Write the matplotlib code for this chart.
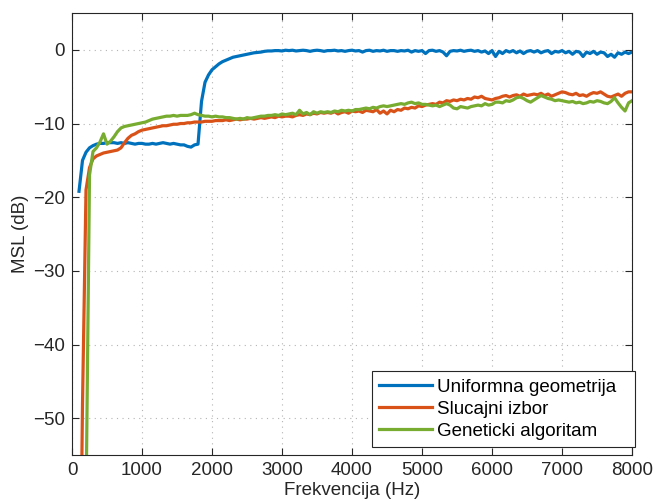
import numpy as np
import matplotlib
matplotlib.use("Agg")
import matplotlib.pyplot as plt

plt.rcParams["font.family"] = ["Liberation Sans", "DejaVu Sans"]

# frequency grid, 50 Hz steps
freq = np.arange(100, 8001, 50)

# MSL in dB for each array layout
uniform = [
    -19.2, -15.0, -13.9, -13.3, -13.0, -12.8, -12.7, -12.7, -12.6, -12.6,
    -12.6, -12.7, -12.6, -12.7, -12.6, -12.7, -12.8, -12.7, -12.7, -12.8,
    -12.8, -12.7, -12.8, -12.7, -12.6, -12.7, -12.8, -12.7, -12.8, -12.9,
    -12.9, -13.1, -13.2, -12.9, -12.8, -7.0, -4.4, -3.4, -2.7, -2.3,
    -1.9, -1.6, -1.4, -1.2, -1.0, -0.9, -0.8, -0.7, -0.6, -0.5,
    -0.4, -0.35, -0.3, -0.2, -0.15, -0.15, -0.1, -0.1, -0.15, -0.05,
    -0.1, -0.05, -0.15, -0.1, -0.05, -0.1, -0.2, -0.1, -0.05, -0.1,
    -0.2, -0.1, -0.1, -0.05, -0.15, -0.1, -0.2, -0.1, -0.05, -0.15,
    -0.1, -0.3, -0.1, -0.05, -0.2, -0.1, -0.15, -0.05, -0.2, -0.1,
    -0.1, -0.2, -0.1, -0.15, -0.05, -0.3, -0.1, -0.2, -0.1, -0.5,
    -0.1, -0.05, -0.2, -0.1, -0.3, -0.8, -0.2, -0.1, -0.15, -0.05,
    -0.2, -0.1, -0.05, -0.2, -0.1, -0.3, -0.15, -0.5, -0.1, -0.9,
    -0.2, -0.5, -0.1, -0.3, -0.1, -0.4, -0.15, -0.5, -0.2, -0.1,
    -0.3, -0.1, -0.4, -0.2, -0.1, -0.5, -0.2, -0.3, -0.1, -0.4,
    -0.2, -0.6, -0.2, -0.3, -0.9, -0.3, -0.5, -0.2, -0.6, -0.3,
    -0.4, -0.9, -0.6, -1.0, -0.4, -0.6, -0.3, -0.5, -0.3,
]

random_pick = [
    -90.0, -48.0, -19.0, -16.0, -14.8, -14.4, -14.2, -14.0, -13.9, -13.8,
    -13.7, -13.6, -13.3, -12.6, -12.0, -11.6, -11.4, -11.1, -10.9, -10.8,
    -10.7, -10.6, -10.5, -10.4, -10.3, -10.3, -10.2, -10.1, -10.1, -10.0,
    -10.0, -9.9, -9.9, -9.8, -9.8, -9.8, -9.7, -9.7, -9.7, -9.6,
    -9.6, -9.6, -9.5, -9.6, -9.5, -9.4, -9.5, -9.4, -9.4, -9.3,
    -9.4, -9.3, -9.2, -9.3, -9.2, -9.1, -9.2, -9.0, -9.1, -9.0,
    -9.0, -9.1, -8.9, -8.8, -8.9, -8.7, -8.8, -8.6, -8.7, -8.5,
    -8.6, -8.5, -8.6, -8.4, -8.7, -8.5, -8.4, -8.6, -8.3, -8.4,
    -8.3, -8.5, -8.2, -8.3, -8.4, -8.1, -8.6, -8.3, -8.7, -8.2,
    -8.4, -8.1, -8.2, -7.9, -8.0, -7.8, -7.9, -7.6, -7.7, -7.5,
    -7.4, -7.3, -7.4, -7.1, -7.2, -6.9, -7.0, -6.8, -6.9, -6.7,
    -6.8, -6.6, -6.7, -6.4, -6.5, -6.3, -6.6, -6.7, -6.8, -6.6,
    -6.5, -6.3, -6.2, -6.4, -6.2, -6.1, -6.3, -6.0, -6.2, -6.1,
    -6.0, -6.1, -5.9, -6.2, -6.0, -6.3, -6.1, -5.9, -5.7, -5.8,
    -6.0, -6.1, -5.9, -6.2, -6.1, -6.3, -6.0, -5.8, -5.9, -5.7,
    -6.0, -6.3, -6.4, -6.2, -6.0, -6.3, -5.9, -5.7, -5.7,
]

genetic = [
    -80.0, -75.0, -62.0, -17.0, -13.8, -13.3, -12.5, -11.4, -12.8, -12.4,
    -11.8, -11.1, -10.6, -10.4, -10.3, -10.2, -10.1, -10.0, -9.9, -9.8,
    -9.6, -9.4, -9.3, -9.2, -9.1, -9.0, -9.0, -8.9, -9.0, -8.9,
    -8.9, -8.9, -8.8, -8.6, -8.8, -8.9, -9.0, -9.0, -9.1, -9.0,
    -9.1, -9.1, -9.2, -9.2, -9.3, -9.4, -9.3, -9.4, -9.2, -9.3,
    -9.2, -9.1, -9.0, -9.0, -8.9, -8.9, -8.8, -8.9, -8.7, -8.8,
    -8.7, -8.6, -8.8, -8.2, -8.7, -8.5, -8.8, -8.4, -8.6, -8.4,
    -8.5, -8.4, -8.5, -8.3, -8.4, -8.2, -8.3, -8.2, -8.3, -8.1,
    -8.1, -8.0, -7.9, -8.0, -7.8, -7.9, -7.7, -7.6, -7.7, -7.6,
    -7.5, -7.4, -7.3, -7.4, -7.2, -7.1, -7.3, -7.2, -7.4, -7.4,
    -7.5, -7.6, -7.5, -7.7, -7.5, -7.3, -7.5, -7.9, -8.0, -7.7,
    -7.8, -7.9, -7.7, -7.6, -7.5, -7.6, -7.3, -7.5, -7.4, -7.1,
    -7.1, -7.2, -6.9, -7.0, -6.8, -6.5, -6.4, -6.6, -6.9, -7.1,
    -6.8, -6.5, -6.2, -6.4, -6.6, -6.7, -6.9, -6.8, -6.9, -7.0,
    -7.1, -7.0, -7.2, -7.1, -7.3, -7.2, -7.0, -7.1, -6.9, -7.0,
    -7.2, -7.3, -7.0, -6.5, -7.2, -7.8, -8.3, -7.2, -6.9,
]

labels = ["Uniformna geometrija", "Slucajni izbor", "Geneticki algoritam"]
colors = ["#0072BD", "#D95319", "#77AC30"]

fig = plt.figure(figsize=(6.57, 5.01), dpi=100)
ax = fig.add_axes([0.1096, 0.0918, 0.8524, 0.8822])

for y, lab, c in zip([uniform, random_pick, genetic], labels, colors):
    ax.plot(freq, y, color=c, lw=2.3, label=lab)

ax.set_xlim(0, 8000)
ax.set_ylim(-55, 5)
ax.set_xticks(np.arange(0, 8001, 1000))
ax.set_yticks(np.arange(-50, 1, 10))

axis_col = "#262626"
ax.grid(True, linestyle=(0, (1, 4)), color="#b4b4b4", lw=0.8)
ax.tick_params(direction="in", top=True, right=True, length=5, width=0.8,
               colors=axis_col, labelsize=13.5, pad=5)
for s in ax.spines.values():
    s.set_color(axis_col)
    s.set_linewidth(0.8)

ax.set_xlabel("Frekvencija (Hz)", fontsize=13.5, color=axis_col, labelpad=2.5)
ax.set_ylabel("MSL (dB)", fontsize=13.5, color=axis_col, labelpad=3)

# legend stretched to a fixed box in the lower right corner
leg = ax.legend(loc="lower left", bbox_to_anchor=(0.535, 0.018, 0.47, 0.1),
                mode="expand", borderaxespad=0, fontsize=13.5,
                handlelength=2.8, labelspacing=0.25, handletextpad=0.3,
                borderpad=0.4, fancybox=False, framealpha=1)
leg.get_frame().set_edgecolor(axis_col)
leg.get_frame().set_linewidth(0.8)

fig.savefig("out.png", dpi=100)
